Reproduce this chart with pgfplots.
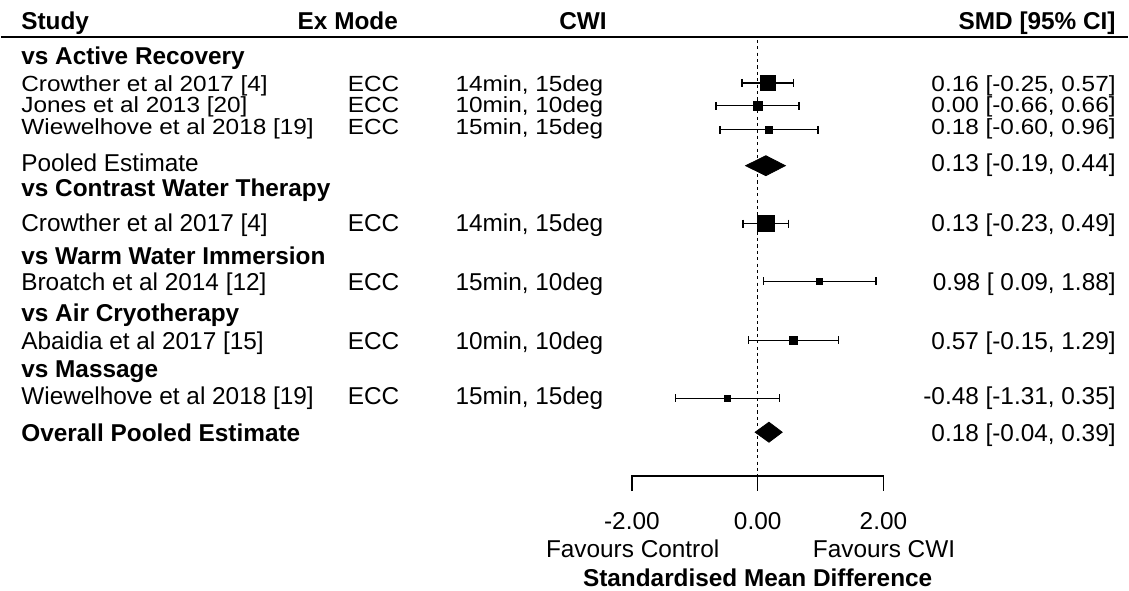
\documentclass[border=0pt]{standalone}
\usepackage{fontspec}
\setmainfont{Liberation Sans}
\usepackage{graphicx}
\usepackage{pgfplots}
\pgfplotsset{compat=1.18}

% horizontal pixel position -> SMD units (0 at 758px, 63px per unit)
\newcommand{\px}[1]{\fpeval{(#1-758)/63}}
% the first three rows are set a little squashed, as in the original
\newcommand{\sq}[1]{\scalebox{1}[0.9]{#1}}

% one study: estimate, lower, upper, row y, half side of the square
\newcommand{\study}[5]{%
  \addplot[black, line width=0.7pt] coordinates {(#2,#4) (#3,#4)};
  \addplot[black, only marks, mark=|, mark size=2pt, mark options={line width=0.7pt}]
    coordinates {(#2,#4) (#3,#4)};
  \addplot[black, only marks, mark=square*, mark size=#5] coordinates {(#1,#4)};
}
% one row of the middle columns: baseline y, ex mode, CWI protocol
\newcommand{\midcols}[3]{%
  \node[anchor=base west] at (axis cs:\px{347},#1) {#2};
  \node[anchor=base west] at (axis cs:\px{455},#1) {#3};
}

\begin{document}
\begin{tikzpicture}[font=\fontsize{12.2pt}{14pt}\selectfont,
                    every node/.style={inner sep=0pt}]
\begin{axis}[
  scale only axis,
  width=564.5pt, height=296pt,
  xmin=-12.031746, xmax=5.888889,
  ymin=-592, ymax=0,
  hide axis, clip=false,
]
\path (rel axis cs:0,0) rectangle (rel axis cs:1,1);

% header
\node[anchor=base west] at (axis cs:\px{20},-30) {\bfseries Study};
\node[anchor=base east] at (axis cs:\px{398},-30) {\bfseries Ex Mode};
\node[anchor=base] at (axis cs:\px{583},-30) {\bfseries CWI};
\node[anchor=base east] at (axis cs:\px{1117},-30) {\bfseries SMD [95\% CI]};
\addplot[black, line width=1pt] coordinates {(-12.031746,-37) (5.888889,-37)};

% reference line
\addplot[black, line width=0.7pt, dash pattern=on 1.6pt off 1.6pt]
  coordinates {(0,-40) (0,-477)};

% studies
\study{0.16}{-0.25}{0.57}{-83}{3.7pt}
\study{0.00}{-0.66}{0.66}{-106}{2.2pt}
\study{0.18}{-0.60}{0.96}{-130}{1.7pt}
\study{0.13}{-0.23}{0.49}{-224}{4.1pt}
\study{0.98}{0.09}{1.88}{-282}{1.6pt}
\study{0.57}{-0.15}{1.29}{-341}{2.0pt}
\study{-0.48}{-1.31}{0.35}{-399}{1.6pt}

% pooled estimates
\addplot[black, fill=black] coordinates {(-0.19,-166) (0.13,-156) (0.44,-166) (0.13,-176)} -- cycle;
\addplot[black, fill=black] coordinates {(-0.04,-433) (0.18,-423) (0.39,-433) (0.18,-443)} -- cycle;

% left text
\node[anchor=base west] at (axis cs:\px{20},-65) {\bfseries vs Active Recovery};
\node[anchor=base west] at (axis cs:\px{20},-92) {\sq{Crowther et al 2017 [4]}};
\node[anchor=base west] at (axis cs:\px{20},-113) {\sq{Jones et al 2013 [20]}};
\node[anchor=base west] at (axis cs:\px{20},-135) {\sq{Wiewelhove et al 2018 [19]}};
\node[anchor=base west] at (axis cs:\px{20},-172) {Pooled Estimate};
\node[anchor=base west] at (axis cs:\px{20},-197) {\bfseries vs Contrast Water Therapy};
\node[anchor=base west] at (axis cs:\px{20},-232) {Crowther et al 2017 [4]};
\node[anchor=base west] at (axis cs:\px{20},-265) {\bfseries vs Warm Water Immersion};
\node[anchor=base west] at (axis cs:\px{20},-291) {Broatch et al 2014 [12]};
\node[anchor=base west] at (axis cs:\px{20},-322) {\bfseries vs Air Cryotherapy};
\node[anchor=base west] at (axis cs:\px{20},-350) {Abaidia et al 2017 [15]};
\node[anchor=base west] at (axis cs:\px{20},-378) {\bfseries vs Massage};
\node[anchor=base west] at (axis cs:\px{20},-405) {Wiewelhove et al 2018 [19]};
\node[anchor=base west] at (axis cs:\px{20},-442) {\bfseries Overall Pooled Estimate};

% ex mode and CWI columns
\midcols{-92}{\sq{ECC}}{\sq{14min, 15deg}}
\midcols{-113}{\sq{ECC}}{\sq{10min, 10deg}}
\midcols{-135}{\sq{ECC}}{\sq{15min, 15deg}}
\midcols{-232}{ECC}{14min, 15deg}
\midcols{-291}{ECC}{15min, 10deg}
\midcols{-350}{ECC}{10min, 10deg}
\midcols{-405}{ECC}{15min, 15deg}

% right column
\node[anchor=base east] at (axis cs:\px{1117},-92) {\sq{0.16 [-0.25, 0.57]}};
\node[anchor=base east] at (axis cs:\px{1117},-113) {\sq{0.00 [-0.66, 0.66]}};
\node[anchor=base east] at (axis cs:\px{1117},-135) {\sq{0.18 [-0.60, 0.96]}};
\node[anchor=base east] at (axis cs:\px{1117},-172) {0.13 [-0.19, 0.44]};
\node[anchor=base east] at (axis cs:\px{1117},-232) {0.13 [-0.23, 0.49]};
\node[anchor=base east] at (axis cs:\px{1117},-291) {0.98 [\ 0.09, 1.88]};
\node[anchor=base east] at (axis cs:\px{1117},-350) {0.57 [-0.15, 1.29]};
\node[anchor=base east] at (axis cs:\px{1117},-405) {-0.48 [-1.31, 0.35]};
\node[anchor=base east] at (axis cs:\px{1117},-442) {0.18 [-0.04, 0.39]};

% bottom axis
\addplot[black, line width=0.7pt] coordinates {(-2,-492) (-2,-477) (2,-477) (2,-492)};
\addplot[black, line width=0.7pt] coordinates {(0,-477) (0,-492)};
\node[anchor=base] at (axis cs:-2,-530) {-2.00};
\node[anchor=base] at (axis cs:0,-530) {0.00};
\node[anchor=base] at (axis cs:2,-530) {2.00};
\node[anchor=base east] at (axis cs:\px{720},-559) {Favours Control};
\node[anchor=base west] at (axis cs:\px{813},-559) {Favours CWI};
\node[anchor=base] at (axis cs:0,-588) {\bfseries Standardised Mean Difference};
\end{axis}
\end{tikzpicture}
\end{document}
